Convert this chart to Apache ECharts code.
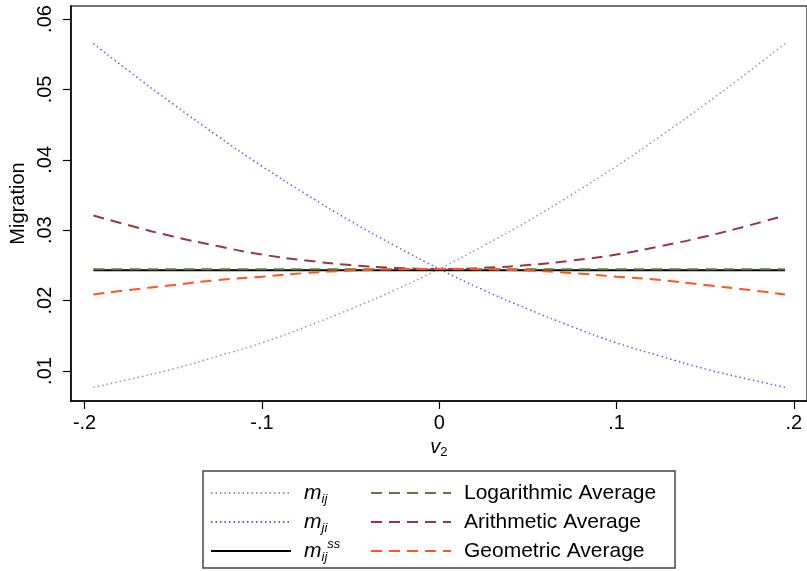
<!DOCTYPE html>
<html><head><meta charset="utf-8">
<script src="https://cdn.jsdelivr.net/npm/echarts@6/dist/echarts.min.js"></script>
<style>html,body{margin:0;padding:0;background:#fff}#c{width:807px;height:571px}</style>
</head><body><div id="c"></div>
<script>
const xValues = [-0.195,-0.175,-0.15,-0.125,-0.1,-0.075,-0.05,-0.025,0,0.025,0.05,0.075,0.1,0.125,0.15,0.175,0.195];
const mij = [0.0077,0.0088,0.0103,0.0121,0.0140,0.0163,0.0188,0.0215,0.0245,0.0278,0.0313,0.0351,0.0391,0.0434,0.0479,0.0526,0.0565];
const mji = [0.0565,0.0526,0.0479,0.0434,0.0391,0.0351,0.0313,0.0278,0.0245,0.0215,0.0188,0.0163,0.0140,0.0121,0.0103,0.0088,0.0077];
const mss = [0.0243,0.0243,0.0243,0.0243,0.0243,0.0243,0.0243,0.0243,0.0243,0.0243,0.0243,0.0243,0.0243,0.0243,0.0243,0.0243,0.0243];
const logAvg = [0.02445,0.02445,0.02445,0.02445,0.02445,0.02445,0.02445,0.02445,0.02445,0.02445,0.02445,0.02445,0.02445,0.02445,0.02445,0.02445,0.02445];
const arithAvg = [0.0321,0.0307,0.0291,0.02775,0.02655,0.0257,0.02505,0.02465,0.0245,0.02465,0.02505,0.0257,0.02655,0.02775,0.0291,0.0307,0.0321];
const geomAvg = [0.02086,0.02151,0.02221,0.02292,0.0234,0.02392,0.02426,0.02445,0.0245,0.02445,0.02426,0.02392,0.0234,0.02292,0.02221,0.02151,0.02086];
const xTicks = [-0.2,-0.1,0,0.1,0.2];
const xTickLabels = ['-.2','-.1','0','.1','.2'];
const yTicks = [0.01,0.02,0.03,0.04,0.05,0.06];
const yTickLabels = ['.01','.02','.03','.04','.05','.06'];
const seriesNames = ['mij','mji','mss','Logarithmic Average','Arithmetic Average','Geometric Average'];

const FONT = '"Liberation Sans", Arial, sans-serif';
function pairs(ys){ return xValues.map((x,i)=>[x,ys[i]]); }
function lookup(v, ticks, labels){ for(let i=0;i<ticks.length;i++){ if(Math.abs(ticks[i]-v)<1e-9) return labels[i]; } return ''; }

const chart = echarts.init(document.getElementById('c'), null, {renderer:'canvas'});
const mathRich = {
  sp:{width:8},
  m:{fontStyle:'italic',fontSize:21,fontFamily:FONT,color:'#000',lineHeight:26,verticalAlign:'middle'},
  sub:{fontStyle:'italic',fontSize:13,fontFamily:FONT,color:'#000',lineHeight:13,verticalAlign:'bottom'},
  sup:{fontStyle:'italic',fontSize:13,fontFamily:FONT,color:'#000',lineHeight:13,verticalAlign:'top'}
};
const txt = {fontSize:21,fontFamily:FONT,color:'#000'};
const lineData = [mij,mji,mss,logAvg,arithAvg,geomAvg];
const styles = [
  {color:'#8a9abb',width:1.5,type:[1.5,3]},
  {color:'#5c5cff',width:1.5,type:[1.5,3]},
  {color:'#000000',width:2,type:'solid'},
  {color:'#5b7d3a',width:2,type:[11,7]},
  {color:'#98393e',width:2,type:[11,7]},
  {color:'#ff5520',width:2,type:[11,7]}
];
const legendCommon = {orient:'vertical',top:480,height:90,padding:0,itemWidth:80,itemHeight:14,itemGap:3,
  itemStyle:{opacity:0}};
const option = {
  animation:false,
  backgroundColor:'#fff',
  grid:{left:68,top:6,right:-3,bottom:170,show:true,borderColor:'#444',borderWidth:1.5},
  xAxis:{
    type:'value', min:-0.2077, max:0.2074,
    name:'{v|v}{s|2}', nameLocation:'middle', nameGap:34,
    nameTextStyle:{rich:{v:{fontStyle:'italic',fontSize:20,fontFamily:FONT,color:'#000',lineHeight:22,verticalAlign:'middle'},s:{fontSize:13,fontFamily:FONT,color:'#000',lineHeight:13,verticalAlign:'bottom'}}},
    axisLine:{show:true,onZero:false,lineStyle:{color:'#000',width:1.5}},
    axisTick:{show:true,length:8,lineStyle:{color:'#000',width:1.2},customValues:xTicks},
    axisLabel:{fontSize:20,fontFamily:FONT,color:'#000',margin:12,customValues:xTicks,formatter:v=>lookup(v,xTicks,xTickLabels)},
    splitLine:{show:false}
  },
  yAxis:{
    type:'value', min:0.00574, max:0.06185,
    name:'Migration', nameLocation:'middle', nameGap:40,
    nameTextStyle:{fontSize:20,fontFamily:FONT,color:'#000'},
    axisLine:{show:true,onZero:false,lineStyle:{color:'#000',width:1.5}},
    axisTick:{show:true,length:8,lineStyle:{color:'#000',width:1.2},customValues:yTicks},
    axisLabel:{fontSize:20,fontFamily:FONT,color:'#000',margin:15,rotate:90,customValues:yTicks,formatter:v=>lookup(v,yTicks,yTickLabels)},
    splitLine:{show:false}
  },
  legend:[
    Object.assign({data:seriesNames.slice(0,3),left:210,
     textStyle:{rich:mathRich,lineHeight:26},
     formatter:n=>({mij:'{sp|}{m|m}{sub|ij}',mji:'{sp|}{m|m}{sub|ji}',mss:'{sp|}{m|m}{sub|ij}{sup|ss}'})[n]},legendCommon),
    Object.assign({data:seriesNames.slice(3),left:370,
     textStyle:Object.assign({lineHeight:26,rich:{sp:{width:8}}},txt),
     formatter:n=>'{sp|}'+n},legendCommon)
  ],
  graphic:[{type:'rect',shape:{x:203,y:471,width:472,height:97},style:{fill:'none',stroke:'#444',lineWidth:1.5},silent:true}],
  series: seriesNames.map((n,i)=>({
    name:n,type:'line',data:pairs(lineData[i]),smooth:true,symbol:'none',showSymbol:false,
    lineStyle:styles[i],itemStyle:{color:styles[i].color}
  }))
};
chart.setOption(option);
</script></body></html>
